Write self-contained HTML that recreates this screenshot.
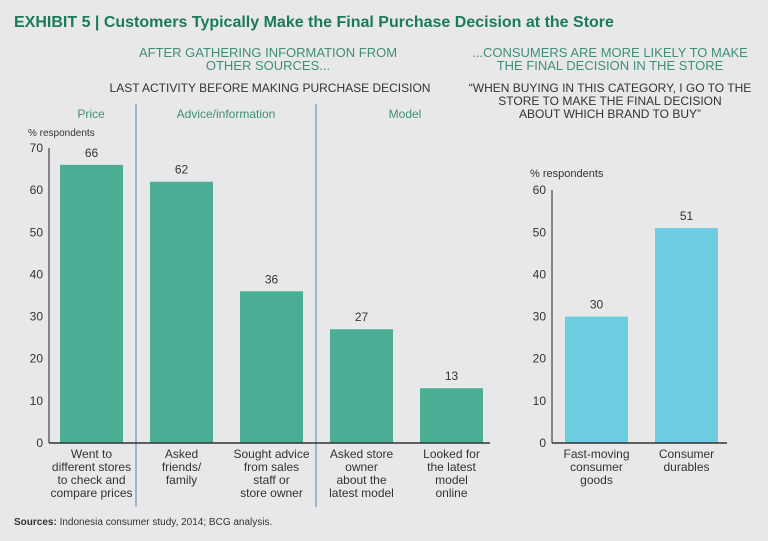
<!DOCTYPE html>
<html><head><meta charset="utf-8"><style>
body{margin:0;background:#e8e8ea;}
svg{display:block;font-family:"Liberation Sans",sans-serif;}
</style></head><body>
<svg width="768" height="541" viewBox="0 0 768 541">
<rect width="768" height="541" fill="#e8e8ea"/>
<text x="14" y="27" font-size="16" font-weight="bold" fill="#1b7a5b">EXHIBIT 5 | Customers Typically Make the Final Purchase Decision at the Store</text>
<g fill="#3f8f77" font-size="13" text-anchor="middle">
<text x="268" y="57">AFTER GATHERING INFORMATION FROM</text><text x="268" y="70">OTHER SOURCES...</text></g>
<text x="270" y="92" font-size="12" text-anchor="middle" fill="#333">LAST ACTIVITY BEFORE MAKING PURCHASE DECISION</text>
<g fill="#3f8f77" font-size="13" text-anchor="middle">
<text x="610" y="57">...CONSUMERS ARE MORE LIKELY TO MAKE</text><text x="610" y="70">THE FINAL DECISION IN THE STORE</text></g>
<g fill="#333" font-size="12" text-anchor="middle">
<text x="610" y="92">“WHEN BUYING IN THIS CATEGORY, I GO TO THE</text><text x="610" y="105">STORE TO MAKE THE FINAL DECISION</text><text x="610" y="118">ABOUT WHICH BRAND TO BUY”</text></g>
<g fill="#3f8f77" font-size="12" text-anchor="middle">
<text x="91" y="118">Price</text>
<text x="226" y="118">Advice/information</text>
<text x="405" y="118">Model</text></g>
<line x1="136" y1="104" x2="136" y2="507" stroke="#5a7fa8"/>
<line x1="316" y1="104" x2="316" y2="507" stroke="#5a7fa8"/>
<text x="28" y="136" font-size="10" fill="#333">% respondents</text>
<text x="530" y="177" font-size="11" fill="#333">% respondents</text>
<g id="left"></g>
<g id="right"></g>
<text x="14" y="525" font-size="10" fill="#333"><tspan font-weight="bold">Sources:</tspan> Indonesia consumer study, 2014; BCG analysis.</text>
</svg>
<script>
const leftCategories=[["Went to","different stores","to check and","compare prices"],["Asked","friends/","family"],["Sought advice","from sales","staff or","store owner"],["Asked store","owner","about the","latest model"],["Looked for","the latest","model","online"]];
const leftValues=[66,62,36,27,13];
const leftTicks=[0,10,20,30,40,50,60,70];
const rightCategories=[["Fast-moving","consumer","goods"],["Consumer","durables"]];
const rightValues=[30,51];
const rightTicks=[0,10,20,30,40,50,60];
const NS="http://www.w3.org/2000/svg";
function mk(p,t,a,txt){const e=document.createElementNS(NS,t);for(const k in a)e.setAttribute(k,a[k]);if(txt!=null)e.textContent=txt;p.appendChild(e);return e;}
const base=443,per=4.214;
function y(v){return base-v*per;}
function draw(g,cats,vals,ticks,ax,x0,step,bw,axEnd,color){
  const top=y(ticks[ticks.length-1]);
  const al=mk(g,'line',{x1:ax,y1:top,x2:ax,y2:base,stroke:'#222'});
  
  ticks.forEach(t=>{const e=mk(g,'text',{x:ax-6,y:y(t)+4,'font-size':12,'text-anchor':'end',fill:'#333'},t);
    });
  vals.forEach((v,i)=>{const x=x0+i*step;
    const r=mk(g,'rect',{x:x,y:y(v),width:bw,height:base-y(v),fill:color});
    
    const l=mk(g,'text',{x:x+bw/2,y:y(v)-8,'font-size':12,'text-anchor':'middle',fill:'#333'},v);
    
    const c=mk(g,'text',{'font-size':12,'text-anchor':'middle',fill:'#333'});
    
    cats[i].forEach((s,j)=>mk(c,'tspan',{x:x+bw/2,y:458+j*13},s));
  });
  const xl=mk(g,'line',{x1:ax,y1:base,x2:axEnd,y2:base,stroke:'#333','stroke-width':1.5});
  
}
draw(document.getElementById('left'),leftCategories,leftValues,leftTicks,49,60,90,63,490,'#4aae94');
draw(document.getElementById('right'),rightCategories,rightValues,rightTicks,552,565,90,63,727,'#6dcde0');
</script>
</body></html>
